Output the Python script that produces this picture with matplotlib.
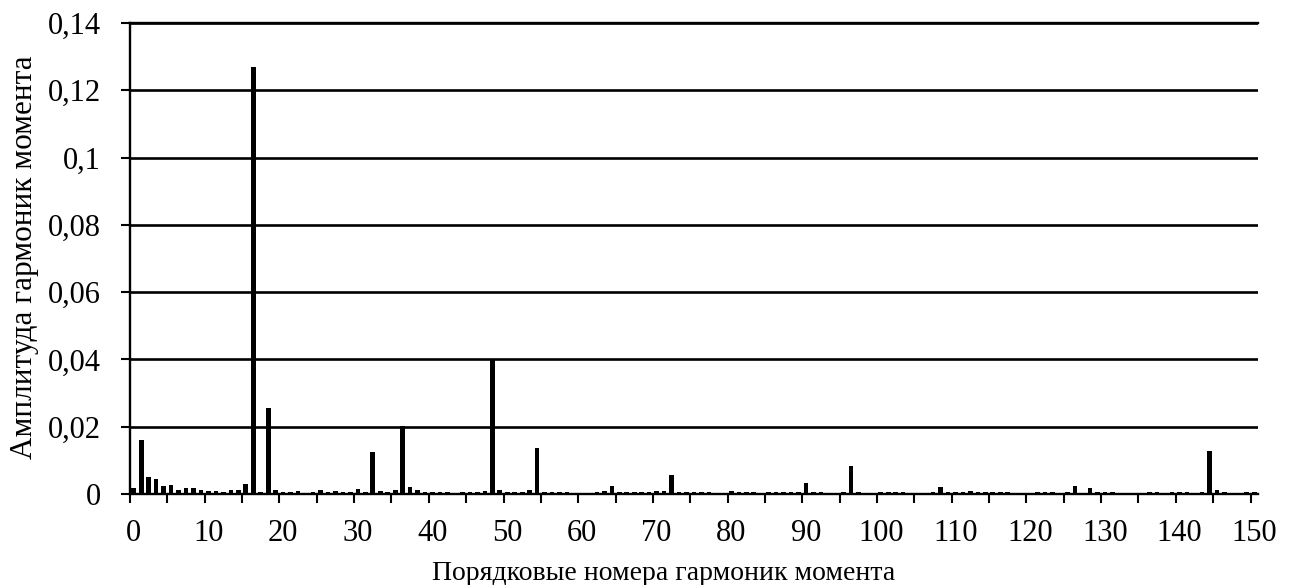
import matplotlib
matplotlib.use("Agg")
import matplotlib.pyplot as plt
from matplotlib.ticker import FixedLocator

plt.rcParams['font.family'] = ['Liberation Serif', 'DejaVu Serif']

# Torque harmonic orders 0..150
harmonics = list(range(151))

# Amplitude of each torque harmonic
amplitudes = [
    0.0019, 0.0161, 0.0051, 0.0046, 0.0023, 0.0028, 0.0013, 0.0017, 0.0019, 0.0011,  # 0-9
    0.0009, 0.0008, 0.0005, 0.0011, 0.0011, 0.0029, 0.1268, 0.0006, 0.0256, 0.0011,  # 10-19
    0.0007, 0.0005, 0.0008, 0.0002, 0.0006, 0.0011, 0.0005, 0.0009, 0.0005, 0.0006,  # 20-29
    0.0014, 0.0005, 0.0125, 0.0010, 0.0005, 0.0013, 0.0201, 0.0021, 0.0013, 0.0005,  # 30-39
    0.0005, 0.0005, 0.0005, 0.0002, 0.0005, 0.0006, 0.0005, 0.0008, 0.0397, 0.0013,  # 40-49
    0.0006, 0.0006, 0.0005, 0.0013, 0.0137, 0.0006, 0.0006, 0.0005, 0.0005, 0.0002,  # 50-59
    0.0002, 0.0002, 0.0005, 0.0008, 0.0024, 0.0006, 0.0005, 0.0005, 0.0005, 0.0006,  # 60-69
    0.0008, 0.0010, 0.0055, 0.0005, 0.0005, 0.0005, 0.0006, 0.0006, 0.0002, 0.0004,  # 70-79
    0.0008, 0.0005, 0.0005, 0.0005, 0.0002, 0.0005, 0.0005, 0.0005, 0.0005, 0.0006,  # 80-89
    0.0033, 0.0006, 0.0006, 0.0002, 0.0002, 0.0006, 0.0083, 0.0005, 0.0004, 0.0002,  # 90-99
    0.0005, 0.0005, 0.0007, 0.0005, 0.0002, 0.0002, 0.0004, 0.0006, 0.0021, 0.0006,  # 100-109
    0.0005, 0.0006, 0.0008, 0.0005, 0.0005, 0.0005, 0.0007, 0.0005, 0.0004, 0.0002,  # 110-119
    0.0002, 0.0005, 0.0005, 0.0005, 0.0002, 0.0005, 0.0024, 0.0002, 0.0019, 0.0005,  # 120-129
    0.0005, 0.0005, 0.0002, 0.0002, 0.0002, 0.0002, 0.0005, 0.0006, 0.0002, 0.0005,  # 130-139
    0.0005, 0.0005, 0.0002, 0.0005, 0.0128, 0.0013, 0.0007, 0.0002, 0.0002, 0.0005,  # 140-149
    0.0005,                                                                          # 150
]

x_ticks = list(range(0, 151, 10))
x_tick_labels = [str(v) for v in x_ticks]
y_ticks = [0, 0.02, 0.04, 0.06, 0.08, 0.10, 0.12, 0.14]
y_tick_labels = ["0", "0,02", "0,04", "0,06", "0,08", "0,1", "0,12", "0,14"]

x_label = "Порядковые номера гармоник момента"
y_label = "Амплитуда гармоник момента"

W, H = 1294, 585
fig = plt.figure(figsize=(W / 100, H / 100), dpi=100)
ax = fig.add_axes([130 / W, 1 - 494 / H, (1258 - 130) / W, (494 - 23) / H])

ax.bar(harmonics, amplitudes, width=0.62, color="black", zorder=3)

ax.set_xlim(-0.5, 150.5)
ax.set_ylim(0, 0.14)

# Category-style axis: labels at category centres, tick marks between categories
ax.xaxis.set_major_locator(FixedLocator(x_ticks))
ax.set_xticklabels(x_tick_labels)
ax.xaxis.set_minor_locator(FixedLocator([-0.5 + 5 * n for n in range(31)]))
ax.tick_params(axis="x", which="major", length=0, pad=18, labelsize=22)
ax.tick_params(axis="x", which="minor", length=6.8, width=1.5, direction="out", color="black")

ax.set_yticks(y_ticks)
ax.set_yticklabels(y_tick_labels)
ax.tick_params(axis="y", which="major", length=6.5, width=1.5, direction="out",
               pad=14.4, labelsize=22)

ax.grid(axis="y", color="black", linewidth=1.9, zorder=0)
ax.set_axisbelow(True)

for side in ("left", "bottom", "top"):
    ax.spines[side].set_linewidth(1.7)
    ax.spines[side].set_color("black")
ax.spines["right"].set_visible(False)

ax.set_xlabel(x_label, fontsize=20, va="baseline")
ax.xaxis.set_label_coords((664 - 130) / 1128, (494 - 580) / 471)
ax.set_ylabel(y_label, fontsize=22.5, va="center")
ax.yaxis.set_label_coords((25 - 130) / 1128, (494 - 257) / 471)

fig.savefig("out.png", dpi=100)
